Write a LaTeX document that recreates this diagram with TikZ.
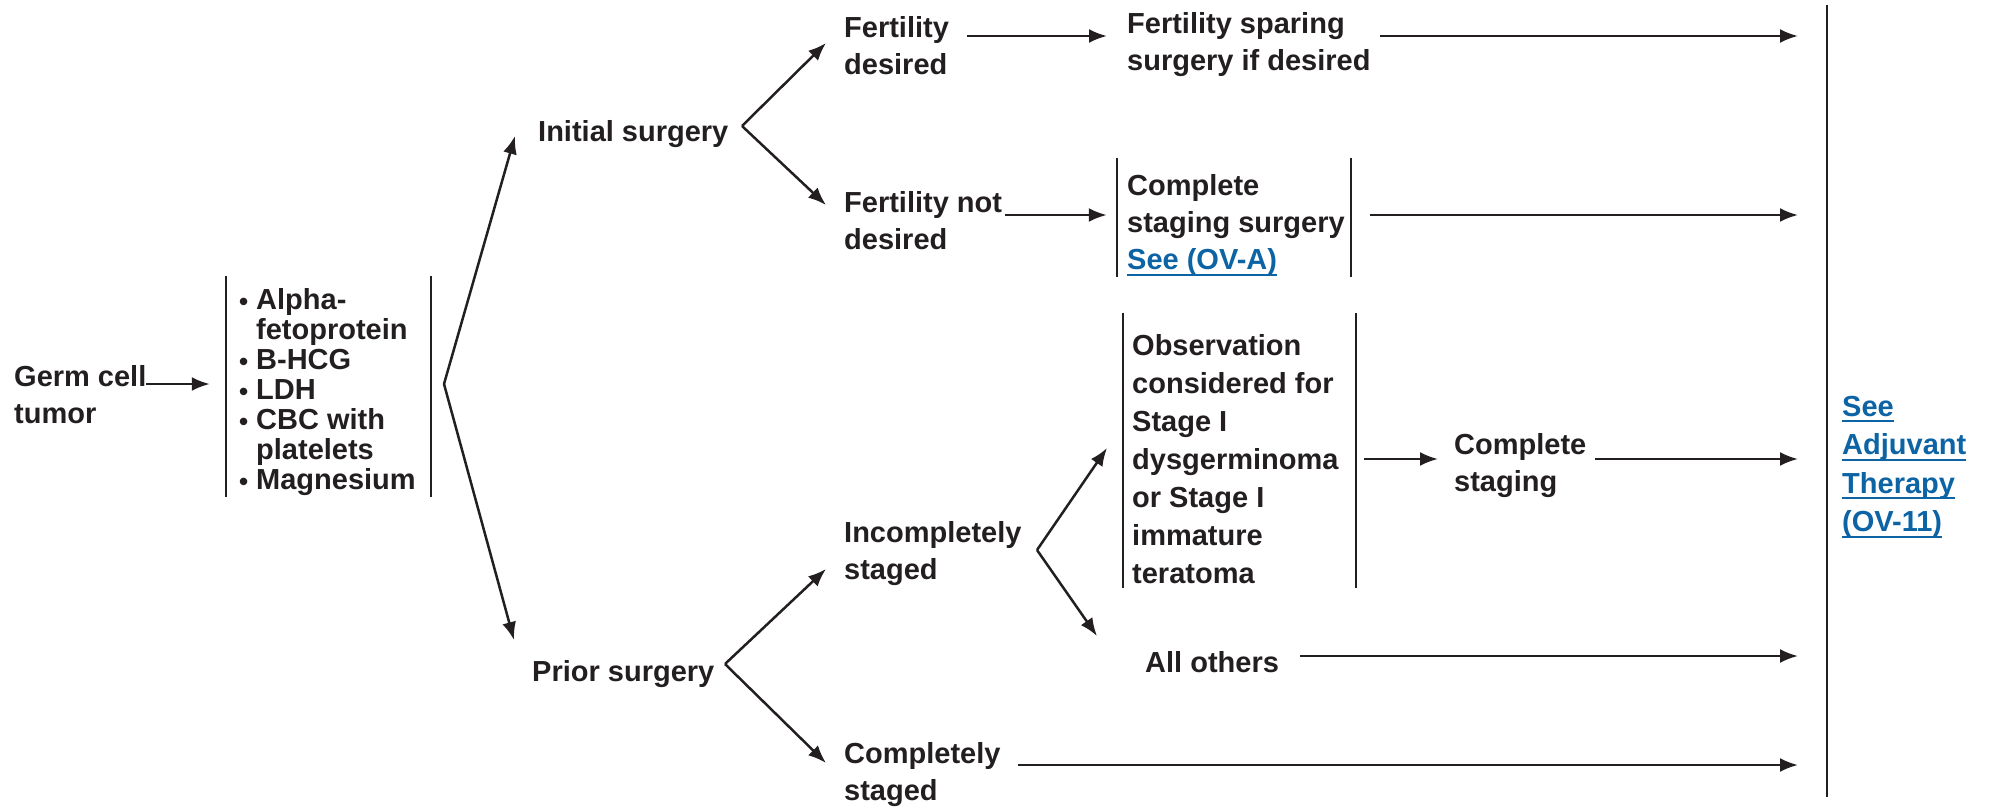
\documentclass[tikz,border=0pt]{standalone}
\usepackage{fontspec}
\setmainfont{Liberation Sans}
\usetikzlibrary{arrows.meta}
\definecolor{ink}{RGB}{35,31,32}
\definecolor{linkblue}{RGB}{12,100,165}
% underlined link text with a fixed rule depth
\newcommand\lnk[1]{\setbox0\hbox{#1}\rlap{\rule[-6pt]{\wd0}{2pt}}\box0}
\newcommand\bul{\makebox[14pt][l]{\hspace*{-3pt}\raisebox{-1.5pt}[0pt][0pt]{\fontsize{26}{26}\selectfont\textbullet}}}
\newcommand\ind{\hspace*{14pt}}
\tikzset{
  lab/.style={font=\bfseries\fontsize{29}{37}\selectfont, align=left, inner sep=0pt,
              anchor=west, text=ink},
  link/.style={lab, text=linkblue},
  frame/.style={draw=none, inner sep=0pt, minimum width=#1},
  bar/.style={line width=2.5pt, draw=ink},
  arr/.style={-{Latex[length=18pt,width=14pt]}, line width=2.5pt, draw=ink},
}
\begin{document}
\begin{tikzpicture}[x=1pt,y=-1pt]
\useasboundingbox (0,0) rectangle (1995,807);

% ---- nodes ----
\node[lab] (germ) at (14,395) {Germ cell\\tumor};

\node[frame=205pt, minimum height=221pt] (testsbox) at (328.5,386.5) {};
\node[lab, font=\bfseries\fontsize{29}{30}\selectfont] (tests) at (242,392)
  {\bul Alpha-\\\ind fetoprotein\\\bul B-HCG\\\bul LDH\\\bul CBC with\\\ind platelets\\\bul Magnesium};

\node[lab] (init)  at (538,134) {Initial surgery};
\node[lab] (prior) at (532,674) {Prior surgery};

\node[lab] (fdes)  at (844,46)  {Fertility\\desired};
\node[lab] (fndes) at (844,221) {Fertility not\\desired};
\node[lab] (fspar) at (1127,45) {Fertility sparing\\surgery if desired};

\node[frame=234pt, minimum height=119pt] (stagebox) at (1234,217.5) {};
\node[lab] (stage) at (1127,225)
  {Complete\\staging surgery\\{\color{linkblue}\lnk{See (OV-A)}}};

\node[lab] (inc)  at (844,554) {Incompletely\\staged};
\node[lab] (comp) at (844,775) {Completely\\staged};

\node[frame=233pt, minimum height=275pt] (obsbox) at (1239.5,450.5) {};
\node[lab, font=\bfseries\fontsize{29}{38}\selectfont] (obs) at (1132,459)
  {Observation\\considered for\\Stage I\\dysgerminoma\\or Stage I\\immature\\teratoma};

\node[lab] (cstage) at (1454,466) {Complete\\staging};
\node[lab] (others) at (1145,662) {All others};

\node[link, font=\bfseries\fontsize{29}{38.5}\selectfont] (adj) at (1842,467)
  {\lnk{See}\\\lnk{Adjuvant}\\\lnk{Therapy}\\\lnk{(OV-11)}};

% ---- box side bars ----
\foreach \b in {testsbox, stagebox, obsbox} {
  \draw[bar] (\b.north west) -- (\b.south west);
  \draw[bar] (\b.north east) -- (\b.south east);
}

% ---- closing line on the right ----
\coordinate (endtop) at (1827,5);
\coordinate (endbot) at (1827,797);
\draw[bar] (endtop) -- (endbot);

% ---- branch points and arrow ends ----
\coordinate (germout) at (146,384);
\coordinate (tfork)   at (444,384);
\coordinate (initin)  at (515,136);
\coordinate (priorin) at (514,640);
\coordinate (ifork)   at (742,126);
\coordinate (fdin)    at (826,43);
\coordinate (fndin)   at (826,205);
\coordinate (fdout)   at (967,36);
\coordinate (fsin)    at (1107,36);
\coordinate (fsout)   at (1380,36);
\coordinate (fndout)  at (1005,215);
\coordinate (stout)   at (1370,215);
\coordinate (obsout)  at (1364,459);
\coordinate (csout)   at (1595,459);
\coordinate (pfork)   at (725,664);
\coordinate (incin)   at (826,569);
\coordinate (compin)  at (826,763);
\coordinate (incfork) at (1037,550);
\coordinate (obsin)   at (1107,448);
\coordinate (othin)   at (1097,636);
\coordinate (othout)  at (1300,656);
\coordinate (compout) at (1018,765);

% ---- connectors ----
\draw[arr, shorten >=16pt] (germout) -- (germout -| testsbox.west);
\draw[arr] (tfork) -- (initin);
\draw[arr] (tfork) -- (priorin);
\draw[arr] (ifork) -- (fdin);
\draw[arr] (ifork) -- (fndin);
\draw[arr] (fdout) -- (fsin);
\draw[arr, shorten >=29pt] (fsout) -- (fsout -| endtop);
\draw[arr, shorten >=10pt] (fndout) -- (fndout -| stagebox.west);
\draw[arr, shorten >=29pt] (stout) -- (stout -| endtop);
\draw[arr, shorten >=16pt] (obsout) -- (obsout -| cstage.west);
\draw[arr, shorten >=29pt] (csout) -- (csout -| endtop);
\draw[arr] (pfork) -- (incin);
\draw[arr] (pfork) -- (compin);
\draw[arr] (incfork) -- (obsin);
\draw[arr] (incfork) -- (othin);
\draw[arr, shorten >=29pt] (othout) -- (othout -| endtop);
\draw[arr, shorten >=29pt] (compout) -- (compout -| endtop);
\end{tikzpicture}
\end{document}
